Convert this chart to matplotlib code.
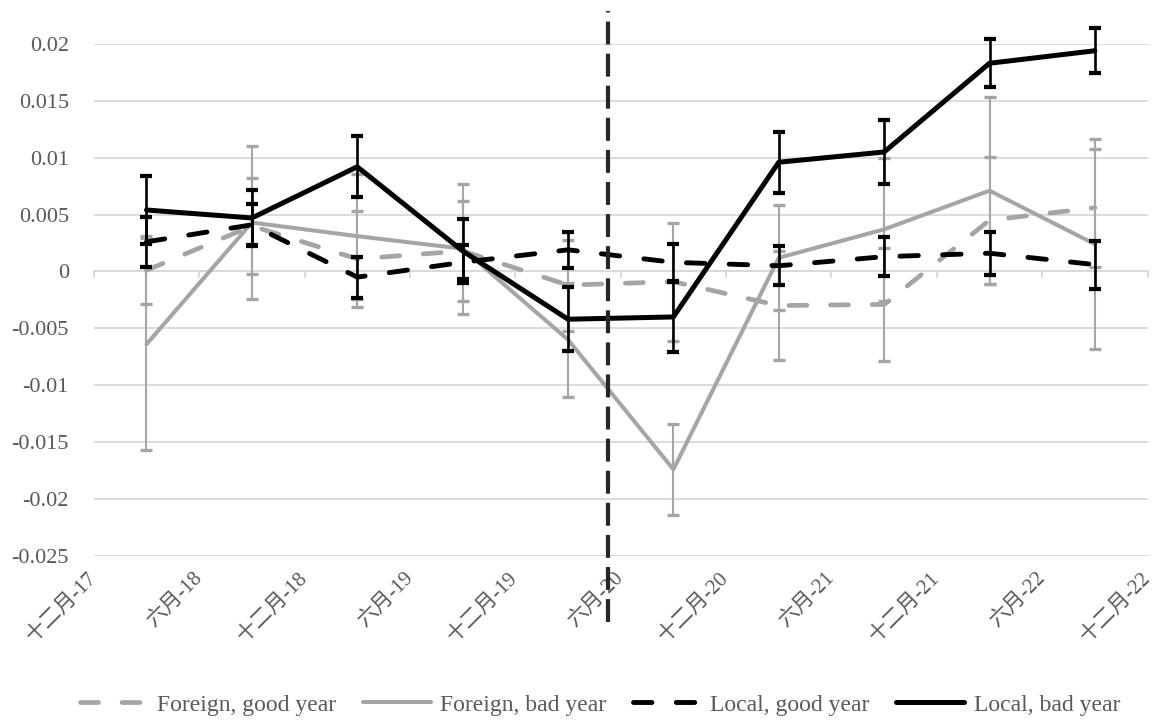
import matplotlib.pyplot as plt

plt.rcParams['font.family'] = ['Liberation Serif', 'Noto Sans CJK SC']

# months counted from Dec-2017; each estimate sits mid-way between two ticks
months = [3, 9, 15, 21, 27, 33, 39, 45, 51, 57]
tick_months = [0, 6, 12, 18, 24, 30, 36, 42, 48, 54, 60]
tick_labels = ['十二月-17', '六月-18', '十二月-18', '六月-19', '十二月-19', '六月-20',
               '十二月-20', '六月-21', '十二月-21', '六月-22', '十二月-22']
event_month = 29.3

foreign_good = [0.0001, 0.0040, 0.0011, 0.0018, -0.0012, -0.0009, -0.0030, -0.0029, 0.0045, 0.0056]
foreign_good_err = [0.0030, 0.0042, 0.0042, 0.0044, 0.0040, 0.0052, 0.0048, 0.0050, 0.0056, 0.0052]

foreign_bad = [-0.0064, 0.0043, 0.0031, 0.0020, -0.0060, -0.0174, 0.0012, 0.0037, 0.0071, 0.0024]
foreign_bad_err = [0.0093, 0.0067, 0.0055, 0.0057, 0.0050, 0.0040, 0.0046, 0.0063, 0.0082, 0.0092]

local_good = [0.0026, 0.0041, -0.0005, 0.0008, 0.0019, 0.0008, 0.0005, 0.0013, 0.0016, 0.0006]
local_good_err = [0.0022, 0.0018, 0.0018, 0.0015, 0.0016, 0.0016, 0.0017, 0.0017, 0.0019, 0.0021]

local_bad = [0.0054, 0.0047, 0.0092, 0.0018, -0.0042, -0.0040, 0.0096, 0.0105, 0.0183, 0.0194]
local_bad_err = [0.0030, 0.0025, 0.0027, 0.0028, 0.0028, 0.0031, 0.0027, 0.0028, 0.0021, 0.0020]

gray = '#A5A5A5'
dash = (3.8, 5.0)

series = [
    ('Foreign, good year', foreign_good, foreign_good_err, gray, 3.4, dash, 1.5),
    ('Foreign, bad year', foreign_bad, foreign_bad_err, gray, 2.9, None, 1.5),
    ('Local, good year', local_good, local_good_err, 'black', 3.5, dash, 1.9),
    ('Local, bad year', local_bad, local_bad_err, 'black', 3.6, None, 1.9),
]

fig, ax = plt.subplots(figsize=(11.58, 7.2), dpi=100)
fig.subplots_adjust(left=0.081, right=0.991, top=0.939, bottom=0.228)

for i, (name, vals, err, color, lw, dashes, elw) in enumerate(series):
    eb = ax.errorbar(months, vals, yerr=err, fmt='none', ecolor=color, elinewidth=elw,
                     capsize=4.5, capthick=elw * 1.6, zorder=3 + i)
    for part in eb.lines[1] + eb.lines[2]:
        part.set_clip_on(False)
    if dashes:
        ax.plot(months, vals, color=color, lw=lw, dashes=dashes, dash_capstyle='round',
                label=name, zorder=3 + i, clip_on=False)
    else:
        ax.plot(months, vals, color=color, lw=lw, solid_capstyle='round',
                solid_joinstyle='round', label=name, zorder=3 + i, clip_on=False)

# policy date marker, running past the plot area like in the original
ax.axvline(event_month, ymin=-0.129, ymax=1.064, clip_on=False, color='#262626',
           lw=3, dashes=(5.5, 2.2), zorder=10)

ax.set_xlim(0, 60)
ax.set_ylim(-0.025, 0.02)
ax.set_yticks([0.02, 0.015, 0.01, 0.005, 0, -0.005, -0.01, -0.015, -0.02, -0.025])
ax.set_yticklabels(['0.02', '0.015', '0.01', '0.005', '0', '-0.005', '-0.01', '-0.015',
                    '-0.02', '-0.025'])
ax.yaxis.grid(True, color='#D9D9D9', lw=1.3)
ax.set_axisbelow(True)
ax.tick_params(axis='y', length=0, labelsize=16, labelcolor='#595959', pad=18)

for side in ['left', 'right', 'top']:
    ax.spines[side].set_visible(False)
ax.spines['bottom'].set_position(('data', 0))
ax.spines['bottom'].set_color('#D9D9D9')
ax.spines['bottom'].set_linewidth(1.3)
ax.set_xticks(tick_months)
ax.tick_params(axis='x', direction='out', length=5, color='#D9D9D9', width=1.3,
               labelbottom=False)

secax = ax.secondary_xaxis('bottom')
secax.set_xticks(tick_months)
secax.set_xticklabels(tick_labels, rotation=45, ha='right', va='center',
                      rotation_mode='anchor')
secax.tick_params(length=0, labelsize=15, labelcolor='#595959', pad=14)
secax.spines['bottom'].set_visible(False)

fig.legend(loc='center', bbox_to_anchor=(0.518, 0.021), ncol=4, frameon=False,
           fontsize=17, handlelength=2.9, handletextpad=0.4, columnspacing=1.1,
           labelcolor='#595959')

fig.savefig('out.png', dpi=100)
